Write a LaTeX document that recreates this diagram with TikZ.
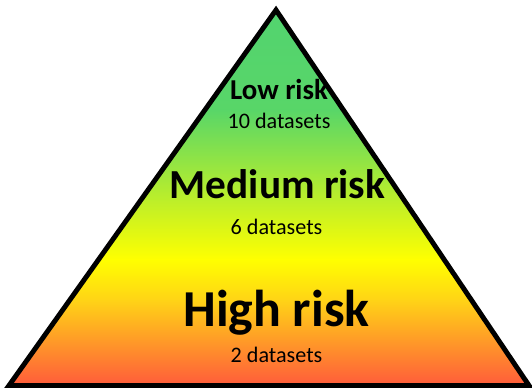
\documentclass[tikz,border=0pt]{standalone}
\usepackage{fontspec}
\setmainfont{Carlito}
\usetikzlibrary{positioning}

\definecolor{riskgreen}{RGB}{82,211,112}
\definecolor{riskgreenb}{RGB}{88,214,104}
\definecolor{riskyellow}{RGB}{255,255,0}
\definecolor{riskgold}{RGB}{255,212,22}
\definecolor{riskred}{RGB}{255,88,60}

\tikzset{
  level/.style={font=\bfseries, anchor=base, inner sep=0pt},
  count/.style={font=\fontsize{12.6}{14}\selectfont, anchor=base, inner sep=0pt},
  band/.style={draw=none},
}

\begin{document}
\begin{tikzpicture}
\useasboundingbox (0,0) rectangle (10.64,7.76);

% ── Pyramid corners ─────────────────────────────────────────
\coordinate (apex) at (5.52,7.56);
\coordinate (left) at (0.18,0.05);
\coordinate (right) at (10.58,0.05);

% ── Colour bands, clipped to the pyramid ────────────────────
\begin{scope}
  \clip (apex) -- (left) -- (right) -- cycle;
  \shade[band, top color=riskgreen, bottom color=riskgreenb] (0,5.56) rectangle (10.64,7.76);
  \shade[band, top color=riskgreenb, bottom color=riskyellow] (0,2.56) rectangle (10.64,5.57);
  \shade[band, top color=riskyellow, bottom color=riskgold] (0,1.76) rectangle (10.64,2.57);
  \shade[band, top color=riskgold, bottom color=riskred] (0,0) rectangle (10.64,1.77);
\end{scope}
\draw[line width=2.8pt] (apex) -- (left) -- (right) -- cycle;

% ── Levels ──────────────────────────────────────────────────
\node[level, font=\bfseries\fontsize{16.4}{18}\selectfont] (low) at (5.58,5.76) {Low risk};
\node[count] (lowN) at (5.58,5.18) {10 datasets};
\node[level, font=\bfseries\fontsize{23.5}{26}\selectfont] (med) at (5.55,3.78) {Medium risk};
\node[count] (medN) at (5.53,3.06) {6 datasets};
\node[level, font=\bfseries\fontsize{29.5}{33}\selectfont] (high) at (5.53,1.22) {High risk};
\node[count] (highN) at (5.53,0.50) {2 datasets};

\end{tikzpicture}
\end{document}
